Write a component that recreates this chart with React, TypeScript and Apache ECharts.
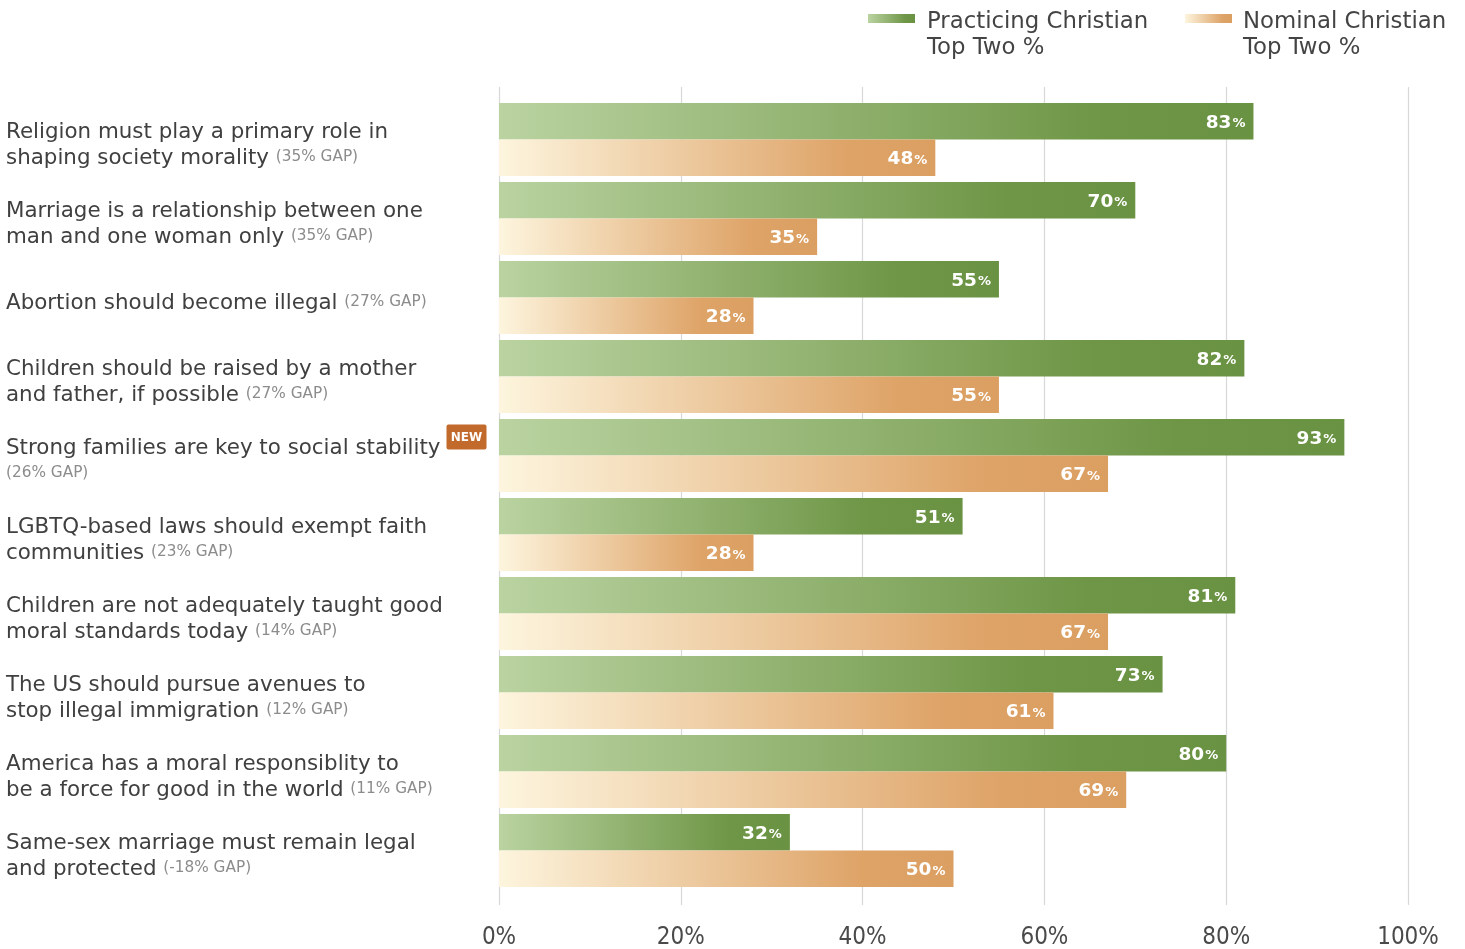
import React, { useEffect, useRef } from "react";
import * as echarts from "echarts";

const categories = [
  "Religion must play a primary role in\nshaping society morality",
  "Marriage is a relationship between one\nman and one woman only",
  "Abortion should become illegal",
  "Children should be raised by a mother\nand father, if possible",
  "Strong families are key to social stability\n",
  "LGBTQ-based laws should exempt faith\ncommunities",
  "Children are not adequately taught good\nmoral standards today",
  "The US should pursue avenues to\nstop illegal immigration",
  "America has a moral responsiblity to\nbe a force for good in the world",
  "Same-sex marriage must remain legal\nand protected",
];
const gaps = ["35% GAP", "35% GAP", "27% GAP", "27% GAP", "26% GAP", "23% GAP", "14% GAP", "12% GAP", "11% GAP", "-18% GAP"];
const practicing = [83, 70, 55, 82, 93, 51, 81, 73, 80, 32];
const nominal = [48, 35, 28, 55, 67, 28, 67, 61, 69, 50];
const seriesNames = ["Practicing Christian\nTop Two %", "Nominal Christian\nTop Two %"];
const xTicks = [0, 20, 40, 60, 80, 100];

const FONT = "'DejaVu Sans', 'Open Sans', sans-serif";
const NARROW = "'Liberation Sans Narrow', 'DejaVu Sans Condensed', 'Liberation Sans', sans-serif";

const greenGrad = () =>
  new echarts.graphic.LinearGradient(0, 0, 1, 0, [
    { offset: 0, color: "#bad3a1" },
    { offset: 0.8, color: "#6e9646" },
    { offset: 1, color: "#6a9243" },
  ]);
const orangeGrad = () =>
  new echarts.graphic.LinearGradient(0, 0, 1, 0, [
    { offset: 0, color: "#fdf5de" },
    { offset: 0.8, color: "#dea367" },
    { offset: 1, color: "#db9f62" },
  ]);

const LEFT = 499;
const RIGHT = 1465 - 1408;
const BAND_TOP = 100;
const BAND_H = 790;
const LABEL_SIZE = 21.4;

export default function App() {
  const ref = useRef<HTMLDivElement>(null);
  useEffect(() => {
    if (!ref.current) return;
    const chart = echarts.init(ref.current, null, { renderer: "svg" });

    // measure first line of 5th label for the NEW badge
    const cv = document.createElement("canvas");
    const ctx = cv.getContext("2d")!;
    ctx.font = `${LABEL_SIZE}px ${FONT}`;
    const w5 = ctx.measureText(categories[4].replace("\n", "")).width;
    const badgeX = 6 + w5 + 6;
    const band = BAND_H / categories.length;
    const badgeY = BAND_TOP + band * 4.5 - 31;

    const valueLabel = {
      show: true,
      position: "insideRight",
      distance: 8,
      formatter: (p: any) => `{v|${p.value}}{p|%}`,
      rich: {
        v: { fontSize: 18.5, fontWeight: "bold", color: "#fff", fontFamily: FONT },
        p: { fontSize: 13, fontWeight: "bold", color: "#fff", fontFamily: FONT, padding: [3, 0, 0, 1] },
      },
    };

    chart.setOption({
      animation: false,
      grid: [
        { left: LEFT, right: RIGHT, top: 87, height: 818, outerBoundsMode: "none" },
        { left: LEFT, right: RIGHT, top: BAND_TOP, height: BAND_H, outerBoundsMode: "none" },
      ],
      xAxis: [
        {
          gridIndex: 0,
          type: "value",
          min: xTicks[0],
          max: xTicks[xTicks.length - 1],
          interval: 20,
          axisLine: { show: false },
          axisTick: { show: false },
          splitLine: { show: true, lineStyle: { color: "#d8d8d8", width: 1.2 } },
          axisLabel: {
            formatter: "{value}%",
            fontSize: 24,
            lineHeight: 22,
            fontFamily: NARROW,
            color: "#4a4a4a",
            margin: 20,
          },
        },
        { gridIndex: 1, type: "value", min: 0, max: 100, show: false },
      ],
      yAxis: [
        { gridIndex: 0, type: "category", data: categories, show: false },
        {
          gridIndex: 1,
          type: "category",
          data: categories,
          inverse: true,
          axisLine: { show: false },
          axisTick: { show: false },
          splitLine: { show: false },
          axisLabel: {
            interval: 0,
            align: "left",
            margin: LEFT - 6,
            fontSize: LABEL_SIZE,
            lineHeight: 26,
            color: "#404040",
            fontFamily: FONT,
            padding: [7, 0, 0, 0],
            formatter: (value: string, index: number) => {
              const g = `{g|(${gaps[index]})}`;
              return value.endsWith("\n") ? value + g : value + " " + g;
            },
            rich: {
              g: { fontSize: 15.3, lineHeight: 26, color: "#8c8c8c", fontFamily: FONT },
            },
          },
        },
      ],
      series: [
        {
          type: "bar",
          name: seriesNames[0],
          xAxisIndex: 1,
          yAxisIndex: 1,
          data: practicing,
          barWidth: 36.5,
          barGap: "0%",
          itemStyle: { color: greenGrad() },
          label: valueLabel,
        },
        {
          type: "bar",
          name: seriesNames[1],
          xAxisIndex: 1,
          yAxisIndex: 1,
          data: nominal,
          barWidth: 36.5,
          barGap: "0%",
          itemStyle: { color: orangeGrad() },
          label: valueLabel,
        },
      ],
      graphic: [
        { type: "rect", left: 868, top: 14, shape: { width: 47, height: 9 }, style: { fill: greenGrad() } },
        {
          type: "text",
          left: 927,
          top: 7,
          style: { text: seriesNames[0], fontSize: 22.8, lineHeight: 26, fill: "#444", fontFamily: FONT },
        },
        { type: "rect", left: 1185, top: 14, shape: { width: 47, height: 9 }, style: { fill: orangeGrad() } },
        {
          type: "text",
          left: 1243,
          top: 7,
          style: { text: seriesNames[1], fontSize: 22.8, lineHeight: 26, fill: "#444", fontFamily: FONT },
        },
        {
          type: "group",
          left: badgeX,
          top: badgeY,
          children: [
            { type: "rect", shape: { x: 0, y: 0, width: 40, height: 25, r: 2 }, style: { fill: "#c2692c" } },
            {
              type: "text",
              x: 20,
              y: 12.5,
              style: {
                text: "NEW",
                fontSize: 12,
                fontWeight: "bold",
                fill: "#fff",
                fontFamily: FONT,
                align: "center",
                verticalAlign: "middle",
              },
            },
          ],
        },
      ],
    });
    return () => chart.dispose();
  }, []);
  return <div ref={ref} style={{ position: "fixed", left: 0, top: 0, width: 1465, height: 949 }} />;
}
